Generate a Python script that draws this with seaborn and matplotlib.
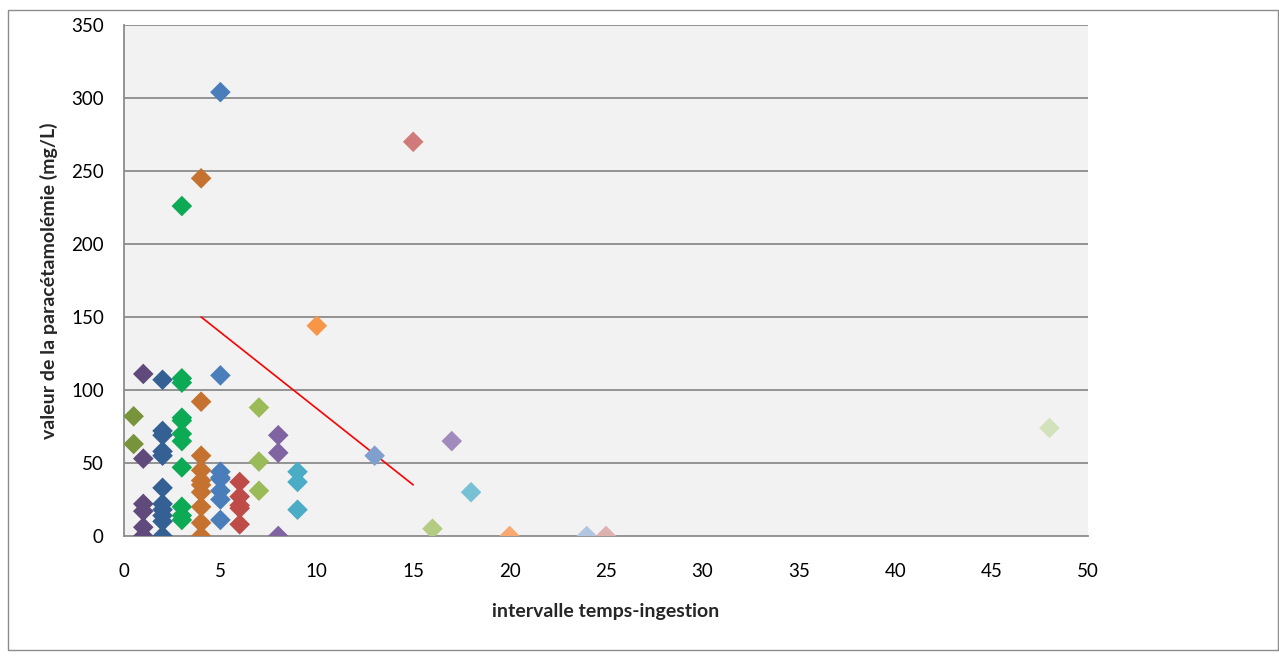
import matplotlib
matplotlib.use("Agg")
import matplotlib.pyplot as plt
import seaborn as sns
import pandas as pd
from matplotlib.patches import Rectangle

# ---- data ----
x_vals = [0.5, 0.5,
          1, 1, 1, 1, 1, 1,
          2, 2, 2, 2, 2, 2, 2, 2, 2, 2, 2,
          3, 3, 3, 3, 3, 3, 3, 3, 3, 3, 3,
          4, 4, 4, 4, 4, 4, 4, 4, 4, 4,
          5, 5, 5, 5, 5, 5, 5, 5,
          6, 6, 6, 6, 6,
          7, 7, 7,
          8, 8, 8,
          9, 9, 9,
          10, 13, 15, 16, 17, 18, 20, 24, 25, 48]
y_vals = [82, 63,
          111, 53, 22, 17, 6, 0,
          107, 72, 69, 58, 55, 33, 22, 18, 14, 10, 0,
          226, 108, 105, 81, 79, 70, 65, 47, 20, 14, 11,
          245, 92, 55, 45, 38, 35, 30, 20, 9, 0,
          304, 110, 44, 40, 39, 31, 25, 11,
          37, 27, 21, 19, 8,
          88, 51, 31,
          69, 57, 0,
          44, 37, 18,
          144, 55, 270, 5, 65, 30, 0, 0, 0, 74]

color_by_x = {0.5: "#77933C", 1: "#604A7B", 2: "#356094", 3: "#0DAA55",
              4: "#C5712F", 5: "#4A7EBB", 6: "#BE4B48", 7: "#9BBB59",
              8: "#8064A2", 9: "#4BACC6", 10: "#F79646", 13: "#7F9FCF",
              15: "#D07B79", 16: "#B3CC82", 17: "#A08BBC", 18: "#78C0D4",
              20: "#F9A870", 24: "#B3C6E0", 25: "#DDB1B0", 48: "#D2E3BC"}

trend_x = [4, 15]
trend_y = [150, 35]

x_ticks = [0, 5, 10, 15, 20, 25, 30, 35, 40, 45, 50]
y_ticks = [0, 50, 100, 150, 200, 250, 300, 350]

# ---- plot ----
sns.set_style("white")
plt.rcParams["font.family"] = ["Lato", "DejaVu Sans"]

df = pd.DataFrame({"x": x_vals, "y": y_vals})
df["g"] = [f"g{float(v):g}" for v in x_vals]
palette = {f"g{float(k):g}": v for k, v in color_by_x.items()}

fig = plt.figure(figsize=(12.79, 6.56), dpi=100)
fig.patches.append(Rectangle((7.5 / 1279, 6 / 656), 1270 / 1279, 640 / 656,
                             transform=fig.transFigure, fill=False,
                             edgecolor="#8C8C8C", linewidth=1.0))
ax = fig.add_axes([124 / 1279, 1 - 536 / 656, (1088 - 124) / 1279, (536 - 25) / 656])
ax.set_facecolor("#F2F2F2")

for yt in y_ticks[1:]:
    ax.axhline(yt, color="#8C8C8C", linewidth=1.3, zorder=1)

ax.plot(trend_x, trend_y, color="#FF0000", linewidth=1.2, zorder=2)

sns.scatterplot(data=df, x="x", y="y", hue="g", palette=palette, marker="D",
                s=110, edgecolor="none", linewidth=0, legend=False, ax=ax, zorder=3)

ax.set_xlim(0, 50)
ax.set_ylim(0, 350)
ax.set_xticks(x_ticks)
ax.set_yticks(y_ticks)
ax.tick_params(axis="both", labelsize=13.5, color="#8C8C8C", length=5.5, width=1,
               direction="out", labelcolor="black")
ax.tick_params(axis="x", pad=14)
ax.tick_params(axis="y", pad=9)
for side in ["top", "right"]:
    ax.spines[side].set_visible(False)
for side in ["left", "bottom"]:
    ax.spines[side].set_color("#8C8C8C")
    ax.spines[side].set_linewidth(1.3)
ax.spines["bottom"].set_zorder(1)

ax.set_xlabel("intervalle temps-ingestion", fontsize=14, fontweight="bold")
ax.set_ylabel("valeur de la paracétamolémie (mg/L)", fontsize=14, fontweight="bold")
ax.xaxis.set_label_coords(0.5, (536 - 603) / 511)
ax.yaxis.set_label_coords((58 - 124) / 964, 0.5)

fig.savefig("out.png", dpi=100)
